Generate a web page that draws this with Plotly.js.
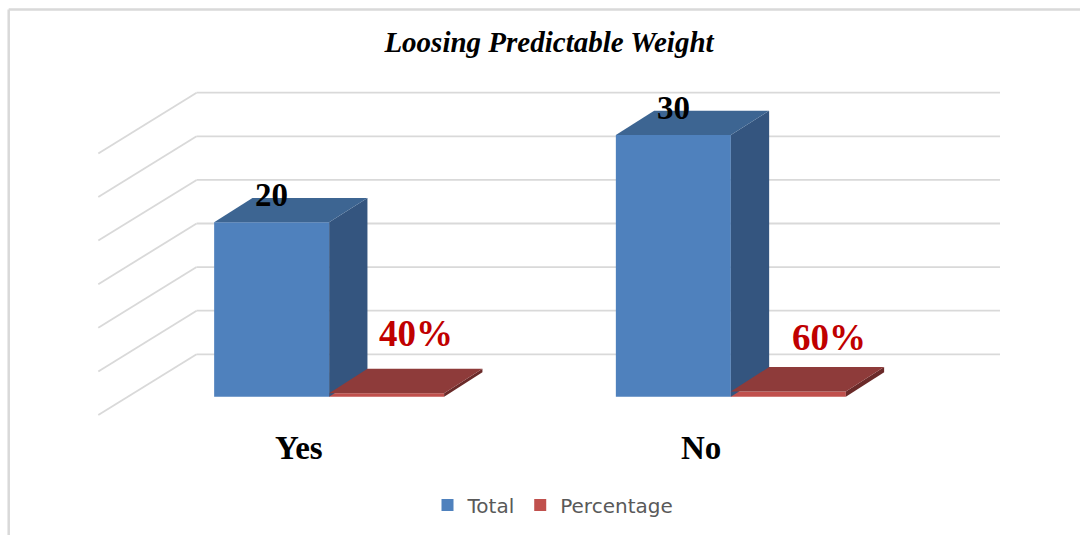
<!DOCTYPE html>
<html>
<head>
<meta charset="utf-8">
<script src="https://cdn.plot.ly/plotly-3.0.1.min.js"></script>
<style>
  html, body { margin: 0; padding: 0; background: #ffffff; overflow: hidden; }
  #chart { width: 1080px; height: 535px; }
</style>
</head>
<body>
<div id="chart"></div>
<script>
// ---- data ----
const categories = ['Yes', 'No'];
const totals = [20, 30];
const percentages = [40, 60];          // shown as "40%", plotted as 0.4
const gridValues = [0, 5, 10, 15, 20, 25, 30];
const seriesNames = ['Total', 'Percentage'];

// ---- page geometry ----
const W = 1080, H = 535;
const M = { l: 90, r: 60, t: 80, b: 100 };
const FLOOR_LEFT_PX = 98.3;   // pixel x of the front-left floor corner (x = -0.5)
const CAT_PX = 401.7;         // pixels per category step
const ZERO_PX = 415;          // pixel y of value 0 on the front edge
const UNIT_PX = 8.72;         // pixels per value unit

// oblique depth offsets, in axis units
const WALL_DX = 98.3 / CAT_PX, WALL_DY = 60.7 / UNIT_PX;
const BAR_FRONT_DX = 30 / CAT_PX, BAR_FRONT_DY = 18.3 / UNIT_PX;
const BAR_DX = 38.3 / CAT_PX, BAR_DY = 24.4 / UNIT_PX;
const BAR_W = 115 / CAT_PX;

const xRange = [-0.5 - (FLOOR_LEFT_PX - M.l) / CAT_PX,
                -0.5 + (W - M.r - FLOOR_LEFT_PX) / CAT_PX];
const yRange = [-(H - M.b - ZERO_PX) / UNIT_PX, (ZERO_PX - M.t) / UNIT_PX];

const plotW = W - M.l - M.r, plotH = H - M.t - M.b;
const paperX = px => (px - M.l) / plotW;
const paperY = py => (H - M.b - py) / plotH;

// ---- colours ----
const FACE = {
  Total:      { front: '#4F81BD', top: '#3D6592', side: '#34557F' },
  Percentage: { front: '#C0504D', top: '#8E3B3A', side: '#6A2A29' }
};
const GRID = '#D9D9D9';

const traces = [];
const shapes = [];

// back wall and side wall grid lines, kept beneath the bars
const backLeft = -0.5 + WALL_DX, backRight = 1.5 + WALL_DX;
gridValues.forEach(v => {
  shapes.push({ type: 'line', xref: 'x', yref: 'y', layer: 'below',
    x0: backLeft, x1: backRight, y0: v + WALL_DY, y1: v + WALL_DY,
    line: { color: GRID, width: 1.8 } });
  shapes.push({ type: 'line', xref: 'x', yref: 'y', layer: 'below',
    x0: -0.5, x1: backLeft, y0: v, y1: v + WALL_DY,
    line: { color: GRID, width: 1.8 } });
});

// bar front faces
const seriesValues = [totals, percentages.map(p => p / 100)];
const seriesOffsets = [BAR_FRONT_DX - BAR_W, BAR_FRONT_DX];
const catX = categories.map((c, i) => i);

seriesNames.forEach((name, s) => {
  traces.push({
    type: 'bar', name: name, x: catX, y: seriesValues[s],
    base: BAR_FRONT_DY, width: BAR_W, offset: seriesOffsets[s],
    marker: { color: FACE[name].front, line: { width: 0 } },
    hoverinfo: 'skip', showlegend: true
  });
});

// top and side faces of each bar
seriesNames.forEach((name, s) => {
  seriesValues[s].forEach((v, i) => {
    const x0 = catX[i] + seriesOffsets[s];
    const x1 = x0 + BAR_W;
    const yb = BAR_FRONT_DY, yt = BAR_FRONT_DY + v;
    traces.push({
      type: 'scatter', mode: 'lines', fill: 'toself',
      x: [x1, x1 + BAR_DX, x1 + BAR_DX, x1, x1],
      y: [yb, yb + BAR_DY, yt + BAR_DY, yt, yb],
      fillcolor: FACE[name].side, line: { width: 0, color: FACE[name].side },
      hoverinfo: 'skip', showlegend: false
    });
    traces.push({
      type: 'scatter', mode: 'lines', fill: 'toself',
      x: [x0, x1, x1 + BAR_DX, x0 + BAR_DX, x0],
      y: [yt, yt, yt + BAR_DY, yt + BAR_DY, yt],
      fillcolor: FACE[name].top, line: { width: 0, color: FACE[name].top },
      hoverinfo: 'skip', showlegend: false
    });
  });
});

// ---- labels ----
const serif = 'Liberation Serif, Times New Roman, serif';
const annotations = [];

totals.forEach((v, i) => {
  annotations.push({
    x: catX[i] + seriesOffsets[0] + BAR_W / 2, y: BAR_FRONT_DY + v,
    xref: 'x', yref: 'y', yshift: 27, showarrow: false,
    text: String(v), yanchor: 'middle', xanchor: 'center',
    font: { family: serif, size: 33, weight: 'bold', color: '#000000' }
  });
});

const pctLabelNudge = [[29, 60], [41, 54]];
percentages.forEach((p, i) => {
  annotations.push({
    x: catX[i] + seriesOffsets[1] + BAR_W / 2, y: BAR_FRONT_DY + p / 100,
    xref: 'x', yref: 'y', xshift: pctLabelNudge[i][0], yshift: pctLabelNudge[i][1],
    showarrow: false, text: p + '%', yanchor: 'middle', xanchor: 'center',
    font: { family: serif, size: 37, weight: 'bold', color: '#C00000' }
  });
});

categories.forEach((c, i) => {
  annotations.push({
    x: catX[i], y: 0, xref: 'x', yref: 'y', yshift: -33,
    showarrow: false, text: c, yanchor: 'middle', xanchor: 'center',
    font: { family: serif, size: 33, weight: 'bold', color: '#000000' }
  });
});

// chart border (top and left edges)
shapes.push(
  { type: 'line', xref: 'paper', yref: 'paper',
    x0: paperX(8.7), x1: paperX(W), y0: paperY(9.5), y1: paperY(9.5),
    line: { color: GRID, width: 2.5 } },
  { type: 'line', xref: 'paper', yref: 'paper',
    x0: paperX(8.7), x1: paperX(8.7), y0: paperY(9.5), y1: paperY(H),
    line: { color: GRID, width: 2.5 } }
);

const layout = {
  width: W, height: H, autosize: false,
  margin: M,
  paper_bgcolor: '#ffffff', plot_bgcolor: 'rgba(0,0,0,0)',
  barmode: 'overlay',
  showlegend: true,
  title: {
    text: 'Loosing Predictable Weight',
    xref: 'container', yref: 'container',
    x: 549 / W, xanchor: 'center', y: 1 - 42 / H, yanchor: 'middle',
    font: { family: serif, size: 29, weight: 'bold', style: 'italic', color: '#000000' }
  },
  xaxis: {
    range: xRange, showgrid: false, zeroline: false, showline: false,
    showticklabels: false, ticks: '', fixedrange: true
  },
  yaxis: {
    range: yRange, showgrid: false, zeroline: false, showline: false,
    showticklabels: false, ticks: '', fixedrange: true
  },
  legend: {
    orientation: 'h', xref: 'container', yref: 'container',
    x: 553 / W, xanchor: 'center', y: 1 - 505 / H, yanchor: 'middle',
    font: { family: 'DejaVu Sans, sans-serif', size: 20, color: '#595959' },
    bgcolor: 'rgba(0,0,0,0)', traceorder: 'normal'
  },
  annotations: annotations,
  shapes: shapes
};

Plotly.newPlot('chart', traces, layout, { staticPlot: true, displayModeBar: false });
</script>
</body>
</html>
